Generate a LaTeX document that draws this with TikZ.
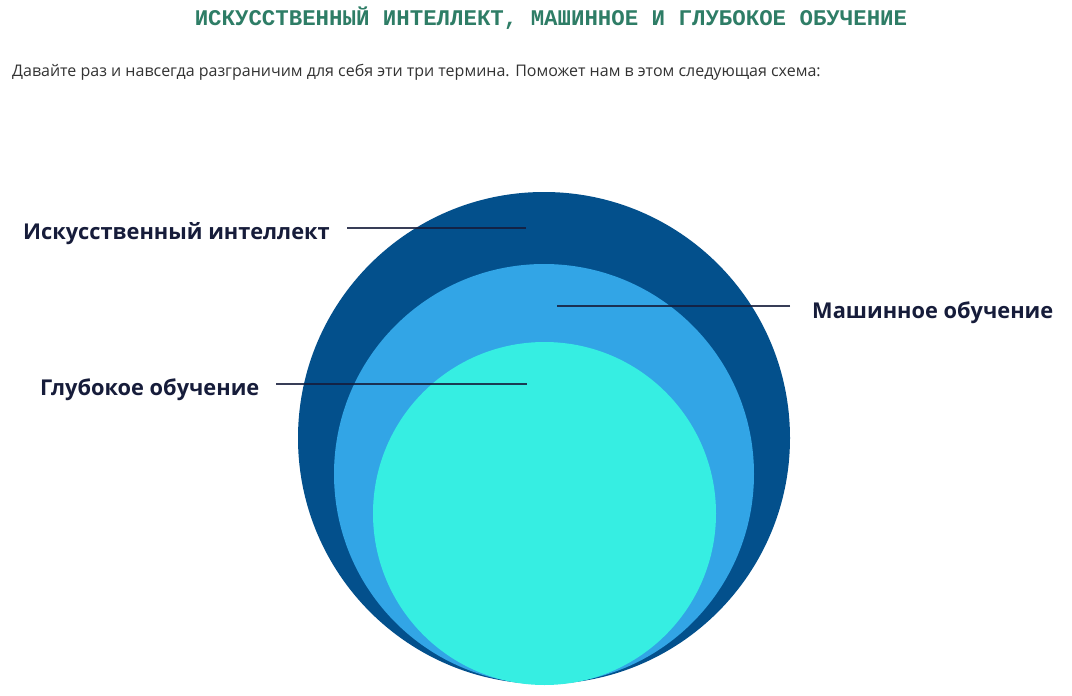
\documentclass[tikz,border=0pt]{standalone}
\usepackage{fontspec}
\setmainfont{Open Sans}
\newfontfamily\titlefont{Liberation Mono}
\newfontfamily\labelfont{Open Sans}
\definecolor{titlegreen}{RGB}{46,125,102}
\definecolor{subgray}{RGB}{51,51,51}
\definecolor{aiblue}{RGB}{3,80,140}
\definecolor{mlblue}{RGB}{50,165,230}
\definecolor{dlcyan}{RGB}{54,238,226}
\definecolor{navy}{RGB}{22,28,58}
\begin{document}
\begin{tikzpicture}[x=1pt,y=-1pt,
  lbl/.style={font=\labelfont\bfseries\fontsize{21.8}{25}\selectfont, text=navy, inner sep=0pt},
  leader/.style={draw=navy, line width=1.8pt, opacity=0.85}]
\useasboundingbox[fill=white] (0,0) rectangle (1072,696);
\node[font=\titlefont\bfseries\fontsize{22.4}{25}\selectfont, text=titlegreen, inner sep=0pt] (title) at (551,18) {ИСКУССТВЕННЫЙ ИНТЕЛЛЕКТ, МАШИННОЕ И ГЛУБОКОЕ ОБУЧЕНИЕ};
\node[font=\fontsize{16}{19}\selectfont, text=subgray, inner sep=0pt, anchor=west] (sub) at (12,72) {Давайте раз и навсегда разграничим для себя эти три термина. Поможет нам в этом следующая схема:};
\fill[aiblue] (544,438) circle[radius=246pt];
\fill[mlblue] (544,474) circle[radius=210pt];
\fill[dlcyan] (544.5,513.5) circle[radius=171.5pt];
\node[lbl, anchor=west] (ai) at (23,234) {Искусственный интеллект};
\node[lbl, anchor=west] (ml) at (812,313) {Машинное обучение};
\node[lbl, anchor=west] (dl) at (40,390) {Глубокое обучение};
\coordinate (ai1) at (347,228); \coordinate (ai2) at (526,228);
\coordinate (ml1) at (790,306); \coordinate (ml2) at (557,306);
\coordinate (dl1) at (276,384); \coordinate (dl2) at (527,384);
\draw[leader] (ai1) -- (ai2);
\draw[leader] (ml1) -- (ml2);
\draw[leader] (dl1) -- (dl2);
\end{tikzpicture}
\end{document}
